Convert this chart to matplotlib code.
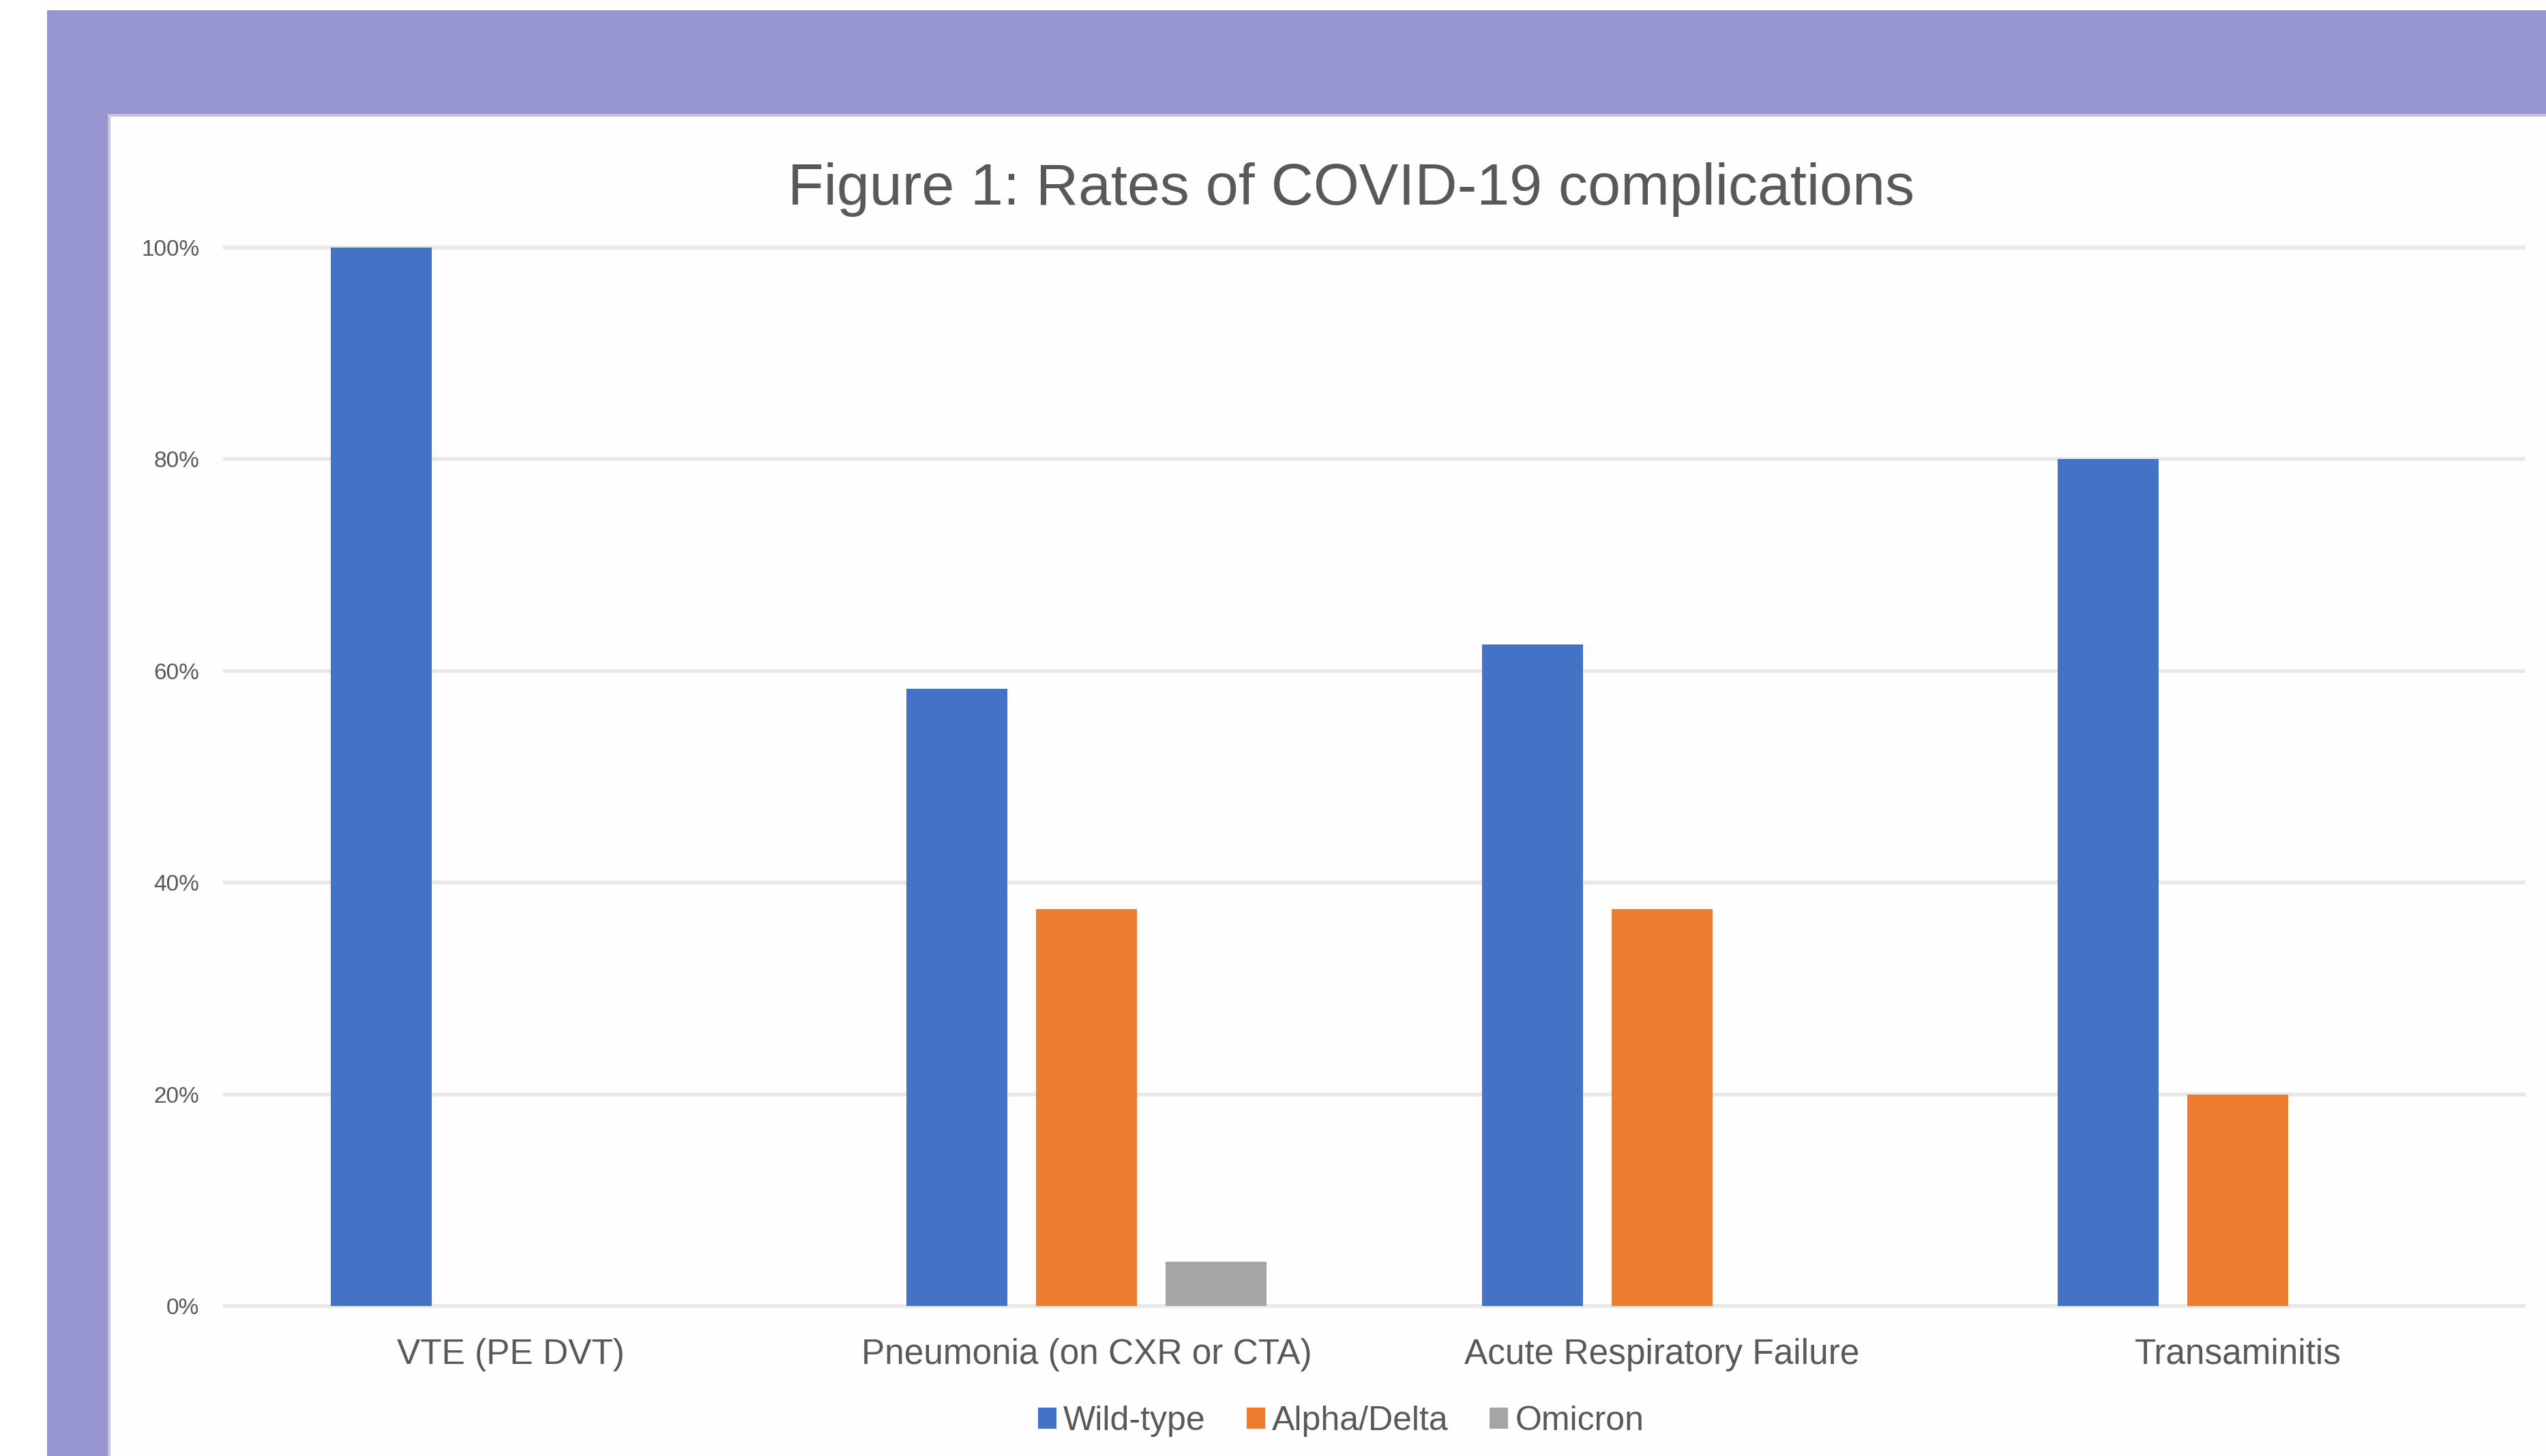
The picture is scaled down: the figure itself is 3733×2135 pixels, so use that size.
import numpy as np
import matplotlib
matplotlib.use('Agg')
import matplotlib.pyplot as plt
from matplotlib.patches import Rectangle, Patch

plt.rcParams['font.family'] = ['Liberation Sans', 'DejaVu Sans']

# data (fractions)
categories = ['VTE (PE DVT)', 'Pneumonia (on CXR or CTA)', 'Acute Respiratory Failure', 'Transaminitis']
wild_type = [1.00, 0.583, 0.625, 0.80]
alpha_delta = [0.0, 0.375, 0.375, 0.20]
omicron = [0.0, 0.042, 0.0, 0.0]
series_names = ['Wild-type', 'Alpha/Delta', 'Omicron']
yticks = [0, 0.2, 0.4, 0.6, 0.8, 1.0]
ytick_labels = ['0%', '20%', '40%', '60%', '80%', '100%']

colors = ['#4472c4', '#ed7d31', '#a5a5a5']
textcol = '#595959'
W, H = 3733, 2135

fig = plt.figure(figsize=(W/100., H/100.), dpi=100)
fig.patch.set_facecolor('white')

# purple frame + white panel
fig.patches.append(Rectangle((69./W, 0), 1, 1 - 15./H, transform=fig.transFigure,
                             facecolor='#9795d0', edgecolor='none', zorder=-3))
fig.patches.append(Rectangle((158./W, 0), 1, 1 - 167./H, transform=fig.transFigure,
                             facecolor='#c4c3e0', edgecolor='none', zorder=-2))
fig.patches.append(Rectangle((162./W, 0), 1, 1 - 171./H, transform=fig.transFigure,
                             facecolor='#fefefe', edgecolor='none', zorder=-1))

ax = fig.add_axes([327./W, 1 - 1920./H, (3703. - 327.)/W, (1920. - 358.)/H])
ax.set_facecolor('none')
ax.set_zorder(2)

x = np.arange(len(categories))
width = 0.175
step = 0.225
data = [wild_type, alpha_delta, omicron]
for j in range(3):
    ax.bar(x + (j - 1)*step, data[j], width, color=colors[j], zorder=3)

ax.set_xlim(-0.5, len(categories) - 0.5)
ax.set_yticks(yticks)
ax.set_yticklabels(ytick_labels)
ax.set_xticks(x)
ax.set_xticklabels(categories)
ax.yaxis.grid(True, color='#e8e8e8', lw=4, zorder=0)
ax.set_axisbelow(True)
for s in ax.spines.values():
    s.set_visible(False)
ax.tick_params(axis='y', length=0, pad=25, labelsize=24, labelcolor=textcol)
ax.tick_params(axis='x', length=0, pad=30, labelsize=37, labelcolor=textcol)
ax.set_ylim(-0.003, 1.003)

fig.text(1981./W, 1 - 300./H, 'Figure 1: Rates of COVID-19 complications',
         ha='center', va='baseline', fontsize=62, color=textcol, zorder=5)

handles = [Patch(facecolor=colors[j], edgecolor='none') for j in range(3)]
leg = fig.legend(handles, series_names, loc='center', bbox_to_anchor=(1966./W, 1 - 2084./H),
                 ncol=3, frameon=False, fontsize=36, labelcolor=textcol,
                 handlelength=0.55, handleheight=0.6, handletextpad=0.2, columnspacing=1.2)
leg.set_zorder(5)

fig.savefig('out.png', dpi=100, facecolor='white')
